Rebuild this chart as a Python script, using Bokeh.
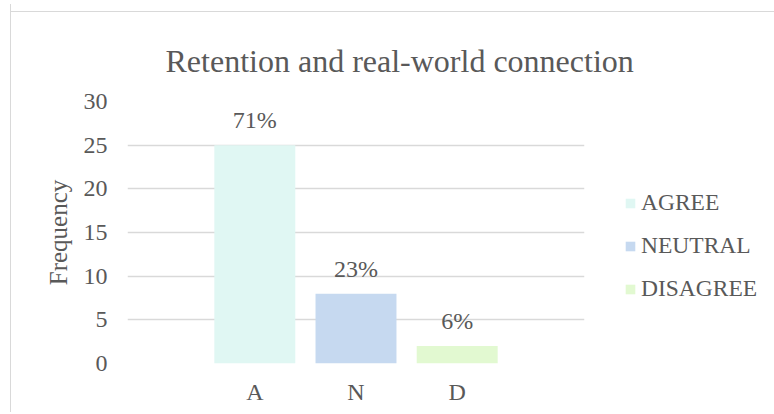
from bokeh.plotting import figure
from bokeh.models import (Range1d, FactorRange, Legend, LegendItem, Title,
                          FixedTicker, ColumnDataSource)
from bokeh.core.properties import value
from bokeh.embed import file_html
from bokeh.resources import INLINE

# ---- data ----
categories = ["A", "N", "D"]
frequencies = [25, 8, 2]
percent_labels = ["71%", "23%", "6%"]
legend_labels = ["AGREE", "NEUTRAL", "DISAGREE"]
colors = ["#E0F7F3", "#C6D9F0", "#E2F9D1"]
y_ticks = [0, 5, 10, 15, 20, 25, 30]

FONT = "Liberation Serif"
TXT = "#595959"

p = figure(frame_width=457, frame_height=262, output_backend="svg",
           toolbar_location=None,
           x_range=FactorRange(*categories, range_padding=0.758,
                               range_padding_units="absolute"),
           y_range=Range1d(0, 30),
           min_border_left=116, min_border_right=189,
           min_border_top=97, min_border_bottom=49,
           styles={"border-left": "1px solid #D9D9D9",
                   "margin-left": "10px", "margin-top": "4px",
                   "background": "linear-gradient(#D9D9D9, #D9D9D9) 0 7px / 100% 1px no-repeat"})
p.outline_line_color = None
p.background_fill_color = "white"
p.border_fill_alpha = 0

items = []
for cat, val, col, lab in zip(categories, frequencies, colors, legend_labels):
    r = p.vbar(x=[cat], top=[val], width=0.8, fill_color=col, line_color=None)
    items.append(LegendItem(label=lab, renderers=[r]))

src = ColumnDataSource(dict(x=categories, y=frequencies, t=percent_labels))
p.text(x="x", y="y", text="t", source=src, text_align="center",
       text_baseline="middle", y_offset=-25, text_font=value(FONT),
       text_font_size="24px", text_color=TXT)

# axes
p.yaxis.ticker = FixedTicker(ticks=y_ticks)
for ax in (p.xaxis[0], p.yaxis[0]):
    ax.axis_line_color = None
    ax.major_tick_line_color = None
    ax.minor_tick_line_color = None
    ax.major_label_text_font = FONT
    ax.major_label_text_font_size = "24px"
    ax.major_label_text_color = TXT
p.yaxis.major_label_standoff = 14
p.xaxis.major_label_standoff = 9
p.yaxis.axis_label = "Frequency"
p.yaxis.axis_label_text_font = FONT
p.yaxis.axis_label_text_font_size = "25px"
p.yaxis.axis_label_text_font_style = "normal"
p.yaxis.axis_label_text_color = TXT
p.yaxis.axis_label_standoff = 9

p.xgrid.grid_line_color = None
p.ygrid.grid_line_color = "#D9D9D9"
p.ygrid.grid_line_width = 1.3

# small invisible spacer between frame and title (lifts the title a little)
p.add_layout(Title(text=" ", text_font_size="4px", standoff=2,
                   text_alpha=0), "above")
p.add_layout(Title(text="Retention and real-world connection", align="left",
                   offset=38, standoff=46, text_font=FONT,
                   text_font_size="32px", text_font_style="normal",
                   text_color=TXT), "above")

legend = Legend(items=items, location=(40, 61), orientation="vertical",
                glyph_width=12, glyph_height=12, label_standoff=5,
                label_height=24, spacing=16, padding=0, margin=0,
                label_text_font=FONT, label_text_font_size="23.5px",
                label_text_color=TXT, background_fill_alpha=0,
                border_line_alpha=0)
p.add_layout(legend, "right")

open("out.html", "w").write(file_html(p, INLINE))
